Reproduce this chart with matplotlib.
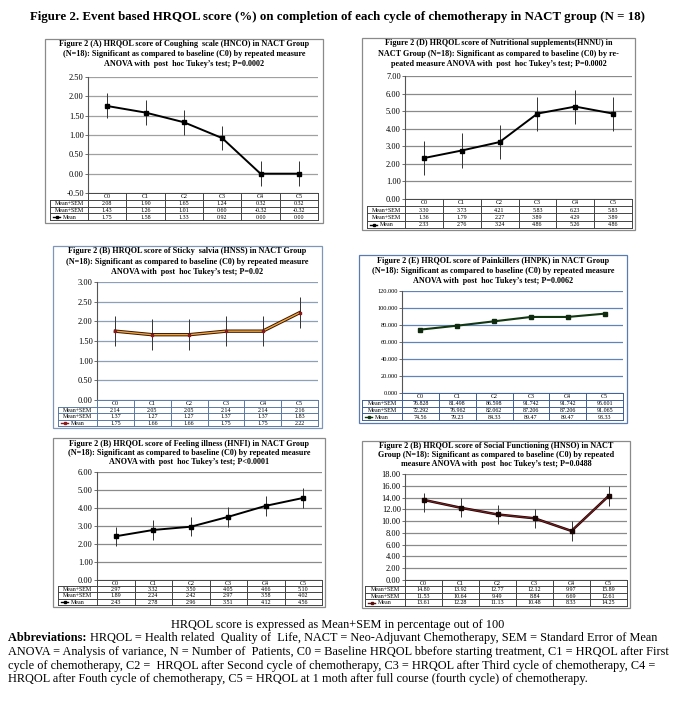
import numpy as np
import matplotlib.pyplot as plt
from matplotlib.patches import Rectangle
from matplotlib.ticker import FormatStrFormatter

plt.rcParams['font.family'] = ['Liberation Serif', 'DejaVu Serif']

# ---- data ----
cycles = ['C0', 'C1', 'C2', 'C3', 'C4', 'C5']
row_labels = ['Mean+SEM', 'Mean+SEM', 'Mean']

cough_hi = [2.08, 1.90, 1.65, 1.24, 0.32, 0.32]
cough_lo = [1.43, 1.26, 1.01, 0.60, -0.32, -0.32]
cough_mean = [1.75, 1.58, 1.33, 0.92, 0.00, 0.00]

nutri_hi = [3.30, 3.73, 4.21, 5.83, 6.23, 5.83]
nutri_lo = [1.36, 1.79, 2.27, 3.89, 4.29, 3.89]
nutri_mean = [2.33, 2.76, 3.24, 4.86, 5.26, 4.86]

sticky_hi = [2.14, 2.05, 2.05, 2.14, 2.14, 2.16]
sticky_lo = [1.37, 1.27, 1.27, 1.37, 1.37, 1.83]
sticky_mean = [1.75, 1.66, 1.66, 1.75, 1.75, 2.22]
sticky_bar_hi = [2.14, 2.05, 2.05, 2.14, 2.14, 2.61]  # error bar as drawn

pain_hi = [76.828, 81.498, 86.598, 91.742, 91.742, 95.601]
pain_lo = [72.292, 76.962, 82.062, 87.206, 87.206, 91.065]
pain_mean = [74.56, 79.23, 84.33, 89.47, 89.47, 93.33]

ill_hi = [2.97, 3.32, 3.50, 4.05, 4.66, 5.10]
ill_lo = [1.89, 2.24, 2.42, 2.97, 3.58, 4.02]
ill_mean = [2.43, 2.78, 2.96, 3.51, 4.12, 4.56]

social_hi = [14.80, 13.92, 12.77, 12.12, 9.97, 15.89]
social_lo = [11.53, 10.64, 9.49, 8.84, 6.69, 12.61]
social_mean = [13.61, 12.28, 11.13, 10.48, 8.33, 14.25]

main_title = ('Figure 2. Event based HRQOL score (%) on completion of each cycle '
              'of chemotherapy in NACT group (N = 18)')
note = 'HRQOL score is expressed as Mean+SEM in percentage out of 100'
abbrev = [
    'HRQOL = Health related  Quality of  Life, NACT = Neo-Adjuvant Chemotherapy, SEM = Standard Error of Mean',
    'ANOVA = Analysis of variance, N = Number of  Patients, C0 = Baseline HRQOL bbefore starting treatment, C1 = HRQOL after First',
    'cycle of chemotherapy, C2 =  HRQOL after Second cycle of chemotherapy, C3 = HRQOL after Third cycle of chemotherapy, C4 =',
    'HRQOL after Fouth cycle of chemotherapy, C5 = HRQOL at 1 moth after full course (fourth cycle) of chemotherapy.',
]

panels = [
    dict(title=['Figure 2 (A) HRQOL score of Coughing  scale (HNCO) in NACT Group',
                '(N=18): Significant as compared to baseline (C0) by repeated measure',
                'ANOVA with  post  hoc Tukey\u2019s test; P=0.0002'],
         hi=cough_hi, lo=cough_lo, mean=cough_mean, bar_hi=cough_hi,
         yticks=np.arange(-0.5, 2.51, 0.5), fmt='%.2f', tfmt=['%.2f', '%.2f', '%.2f'],
         box=(45, 39, 323, 223), plot=(88, 77, 318, 193), tbl_left=50, row_h=6.8,
         title_y=(44, 54, 64), frame='#8a8a8a', grid='#a0a0a0', tline='#444444',
         style='black', tick_fs=6.0),
    dict(title=['Figure 2 (D) HRQOL score of Nutritional supplements(HNNU) in',
                'NACT Group (N=18): Significant as compared to baseline (C0) by re-',
                'peated measure ANOVA with  post  hoc Tukey\u2019s test; P=0.0002'],
         hi=nutri_hi, lo=nutri_lo, mean=nutri_mean, bar_hi=nutri_hi,
         yticks=np.arange(0, 7.01, 1), fmt='%.2f', tfmt=['%.2f', '%.2f', '%.2f'],
         box=(362, 38, 635, 230), plot=(405, 76, 632, 199), tbl_left=367, row_h=7.2,
         title_y=(43, 54, 64), frame='#8a8a8a', grid='#8a8a8a', tline='#444444',
         style='black', tick_fs=6.0),
    dict(title=['Figure 2 (B) HRQOL score of Sticky  salvia (HNSS) in NACT Group',
                '(N=18): Significant as compared to baseline (C0) by repeated measure',
                'ANOVA with  post  hoc Tukey\u2019s test; P=0.02'],
         hi=sticky_hi, lo=sticky_lo, mean=sticky_mean, bar_hi=sticky_bar_hi,
         yticks=np.arange(0, 3.01, 0.5), fmt='%.2f', tfmt=['%.2f', '%.2f', '%.2f'],
         box=(53, 246, 322, 428), plot=(97, 282, 318, 400), tbl_left=58, row_h=6.5,
         title_y=(251, 262, 272), frame='#7f97b5', grid='#8ea0b8', tline='#5a7aa5',
         style='orange', tick_fs=6.0),
    dict(title=['Figure 2 (E) HRQOL score of Painkillers (HNPK) in NACT Group',
                '(N=18): Significant as compared to baseline (C0) by repeated measure',
                'ANOVA with  post  hoc Tukey\u2019s test; P=0.0062'],
         hi=pain_hi, lo=pain_lo, mean=pain_mean, bar_hi=pain_hi,
         yticks=np.arange(0, 120.1, 20), fmt='%.3f', tfmt=['%.3f', '%.3f', '%.2f'],
         box=(359, 255, 627, 423), plot=(402, 291, 623, 393), tbl_left=362, row_h=6.8,
         title_y=(261, 271, 281), frame='#5b7bb0', grid='#6283b8', tline='#3f5f95',
         style='green', tick_fs=4.6),
    dict(title=['Figure 2 (B) HRQOL score of Feeling illness (HNFI) in NACT Group',
                '(N=18): Significant as compared to baseline (C0) by repeated measure',
                'ANOVA with  post  hoc Tukey\u2019s test; P<0.0001'],
         hi=ill_hi, lo=ill_lo, mean=ill_mean, bar_hi=ill_hi,
         yticks=np.arange(0, 6.01, 1), fmt='%.2f', tfmt=['%.2f', '%.2f', '%.2f'],
         box=(53, 438, 325, 607), plot=(97, 472, 322, 580), tbl_left=58, row_h=6.2,
         title_y=(444, 453, 462), frame='#8a8a8a', grid='#8a8a8a', tline='#444444',
         style='black', tick_fs=6.0),
    dict(title=['Figure 2 (B) HRQOL score of Social Functioning (HNSO) in NACT',
                'Group (N=18): Significant as compared to baseline (C0) by repeated',
                'measure ANOVA with  post  hoc Tukey\u2019s test; P=0.0488'],
         hi=social_hi, lo=social_lo, mean=social_mean, bar_hi=social_hi,
         yticks=np.arange(0, 18.01, 2), fmt='%.2f', tfmt=['%.2f', '%.2f', '%.2f'],
         box=(362, 441, 630, 608), plot=(405, 474, 627, 580), tbl_left=365, row_h=6.4,
         title_y=(446, 455, 464), frame='#8a8a8a', grid='#8a8a8a', tline='#444444',
         style='maroon', tick_fs=6.0),
]

W, H = 680, 711
fig = plt.figure(figsize=(W / 100, H / 100), dpi=100)
over = fig.add_axes([0, 0, 1, 1], zorder=5)
over.set_xlim(0, W)
over.set_ylim(H, 0)
over.axis('off')
over.patch.set_alpha(0)


def draw_line(ax, x, y, style):
    if style == 'orange':
        ax.plot(x, y, color='#3a1500', lw=2.4, zorder=3)
        ax.plot(x, y, color='#f2a53a', lw=1.0, zorder=4)
        ax.plot(x, y, 's', color='#8b1a1a', ms=2.0, zorder=5)
    elif style == 'maroon':
        ax.plot(x, y, color='#1a0505', lw=1.8, zorder=3)
        ax.plot(x, y, color='#8a2020', lw=0.7, zorder=4)
        ax.plot(x, y, 's', color='#1a0505', ms=2.2, zorder=5)
    elif style == 'green':
        ax.plot(x, y, color='#123812', lw=1.5, zorder=3)
        ax.plot(x, y, 's', color='#0f2a0f', ms=2.4, zorder=5)
    else:
        ax.plot(x, y, color='black', lw=1.4, zorder=3)
        ax.plot(x, y, 's', color='black', ms=2.2, zorder=5)


for p in panels:
    x0, y0, x1, y1 = p['box']
    over.add_patch(Rectangle((x0, y0), x1 - x0, y1 - y0, fill=False,
                             ec=p['frame'], lw=0.9))
    cx = (x0 + x1) / 2
    for ty, line in zip(p['title_y'], p['title']):
        over.text(cx, ty, line, ha='center', va='center', fontsize=5.9,
                  fontweight='bold')

    l, t, r, b = p['plot']
    ax = fig.add_axes([l / W, 1 - b / H, (r - l) / W, (b - t) / H])
    ax.set_facecolor('none')
    xs = np.arange(len(cycles)) + 0.5
    ax.vlines(xs, p['lo'], p['bar_hi'], color='#333333', lw=0.7, zorder=2)
    draw_line(ax, xs, p['mean'], p['style'])
    ax.set_xlim(0, len(cycles))
    ax.set_ylim(p['yticks'][0], p['yticks'][-1])
    ax.set_yticks(p['yticks'])
    ax.yaxis.set_major_formatter(FormatStrFormatter(p['fmt']))
    ax.set_xticks([])
    ax.grid(axis='y', color=p['grid'], lw=0.9)
    ax.set_axisbelow(True)
    for s in ['top', 'right', 'bottom']:
        ax.spines[s].set_visible(False)
    ax.spines['left'].set_color('#555555')
    ax.spines['left'].set_linewidth(0.8)
    ax.tick_params(axis='y', length=2, width=0.6, color='#555555', pad=1,
                   labelsize=p['tick_fs'])

    # data table under the plot
    rh = p['row_h']
    tl = p['tbl_left']
    cw = (r - l) / len(cycles)
    lc = p['tline']
    over.plot([l, r], [b, b], color=lc, lw=0.7)
    for i in range(1, 5):
        over.plot([tl, r], [b + i * rh, b + i * rh], color=lc, lw=0.7)
    over.plot([tl, tl], [b + rh, b + 4 * rh], color=lc, lw=0.7)
    for k in range(len(cycles) + 1):
        over.plot([l + k * cw, l + k * cw], [b, b + 4 * rh], color=lc, lw=0.7)
    for k, c in enumerate(cycles):
        over.text(l + (k + 0.5) * cw, b + 0.55 * rh, c, ha='center', va='center',
                  fontsize=4.3)
    rows = [p['hi'], p['lo'], p['mean']]
    for i, (lab, vals, f) in enumerate(zip(row_labels, rows, p['tfmt'])):
        yy = b + (i + 1.55) * rh
        if lab == 'Mean':
            mcol = {'orange': '#8b1a1a', 'green': '#123812',
                    'maroon': '#5a0f0f'}.get(p['style'], 'black')
            over.plot([tl + 3, tl + 10], [yy, yy], color=mcol, lw=1.0)
            over.plot([tl + 6.5], [yy], 's', color=mcol, ms=1.8)
            over.text(tl + 13, yy, lab, ha='left', va='center', fontsize=4.3)
        else:
            over.text((tl + l) / 2, yy, lab, ha='center', va='center', fontsize=4.3)
        for k, v in enumerate(vals):
            over.text(l + (k + 0.5) * cw, yy, f % v, ha='center', va='center',
                      fontsize=4.3)

# overall title and notes
over.text(338, 17, main_title, ha='center', va='center', fontsize=9.3,
          fontweight='bold')
fs = 8.85
over.text(338, 625, note, ha='center', va='center', fontsize=fs)
ab = over.text(8, 638, 'Abbreviations: ', ha='left', va='center', fontsize=fs,
               fontweight='bold')
over.annotate(abbrev[0], xycoords=ab, xy=(1, 0.5), ha='left', va='center',
              fontsize=fs)
for i, line in enumerate(abbrev[1:]):
    over.text(8, 652 + i * 13.7, line, ha='left', va='center', fontsize=fs)

fig.savefig('out.png', dpi=100)
